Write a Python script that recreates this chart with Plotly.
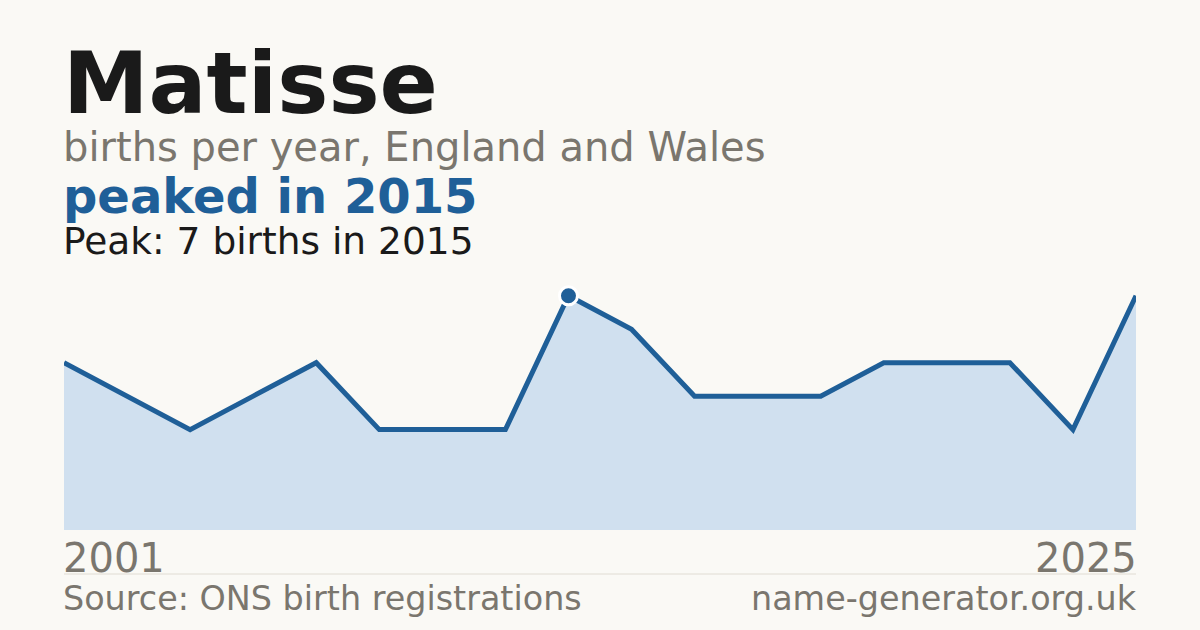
import plotly.graph_objects as go

# Births per year (only years with registrations shown, plotted in sequence)
years = ["2001", "2003", "2005", "2006", "2008", "2010", "2012", "2013", "2015",
         "2016", "2017", "2018", "2019", "2020", "2021", "2022", "2024", "2025"]
births = [5, 4, 3, 4, 5, 3, 3, 3, 7, 6, 4, 4, 4, 5, 5, 5, 3, 7]

name = "Matisse"
subtitle = "births per year, England and Wales"
headline = "peaked in 2015"
peak_note = "Peak: 7 births in 2015"
source = "Source: ONS birth registrations"
site = "name-generator.org.uk"

peak_idx = births.index(max(births))

BG = "#faf9f5"
BLUE = "#1f5f98"
FILL = "#d0e0ef"
GREY = "#7a766e"
DARK = "#1a1a1a"
FONT = "DejaVu Sans"

PAD = 3 / 1072  # annotation inner padding, in paper units


def main():
    fig = go.Figure()
    fig.add_trace(go.Scatter(
        x=years, y=births, mode="lines", fill="tozeroy",
        fillcolor=FILL, line=dict(color=BLUE, width=5),
        hoverinfo="skip",
    ))
    fig.add_trace(go.Scatter(
        x=[years[peak_idx]], y=[births[peak_idx]], mode="markers",
        marker=dict(color=BLUE, size=18, line=dict(color="white", width=3)),
        cliponaxis=False, hoverinfo="skip",
    ))

    def note(text, x, y, size, color, bold=False, xanchor="left"):
        fig.add_annotation(
            text=f"<b>{text}</b>" if bold else text,
            x=x - PAD if xanchor == "left" else x + PAD,
            y=y, xref="paper", yref="paper",
            xanchor=xanchor, yanchor="middle", showarrow=False,
            font=dict(family=FONT, size=size, color=color),
        )

    note(name, 0, 1.780, 86, DARK, bold=True)
    note(subtitle, 0, 1.527, 40, GREY)
    note(headline, 0, 1.329, 48, BLUE, bold=True)
    note(peak_note, 0, 1.151, 37.5, DARK)
    note(years[0], 0, -0.110, 40, GREY)
    note(years[-1], 1, -0.110, 40, GREY, xanchor="right")
    note(source, 0, -0.272, 33.4, GREY)
    note(site, 1, -0.272, 33.4, GREY, xanchor="right")

    fig.add_shape(type="line", xref="paper", yref="paper",
                  x0=0, x1=1, y0=-0.1753, y1=-0.1753,
                  line=dict(color="#e0dcd3", width=1))

    fig.update_layout(
        width=1200, height=630,
        margin=dict(l=64, r=64, t=279, b=100),
        paper_bgcolor=BG, plot_bgcolor=BG,
        showlegend=False,
        font=dict(family=FONT),
    )
    fig.update_xaxes(type="category", range=[0, len(years) - 1],
                     visible=False, showgrid=False, zeroline=False)
    fig.update_yaxes(range=[0, 7.5], visible=False,
                     showgrid=False, zeroline=False)
    # drop the default page margin so the figure sits at the window corner
    fig.write_html("out.html", config={"displayModeBar": False},
                   post_script="document.body.style.margin='0';")


if __name__ == "__main__":
    main()
